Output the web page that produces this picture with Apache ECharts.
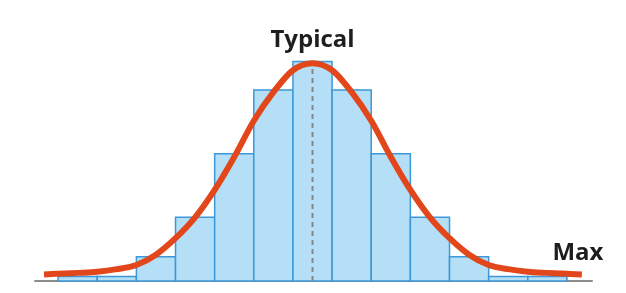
<!DOCTYPE html>
<html>
<head>
<meta charset="utf-8">
<script src="https://cdn.jsdelivr.net/npm/echarts@6/dist/echarts.min.js"></script>
<style>
html,body{margin:0;padding:0;background:#fff;}
#chart{width:626px;height:293px;}
</style>
</head>
<body>
<div id="chart"></div>
<script>
// Histogram bins (bin index = left edge, width 1)
var binStarts = [0,1,2,3,4,5,6,7,8,9,10,11,12];
var binCounts = [2,2,11,29,58,87,100,87,58,29,11,2,2];
// Fitted distribution curve: [x, y]
var curveX = [-0.36, 0, 0.5, 1.0, 1.5, 2.0, 2.5, 3.0, 3.5, 4.0, 4.5, 5.0, 5.5, 6.0, 6.5, 7.0, 7.5, 8.0, 8.5, 9.0, 9.5, 10.0, 10.5, 11.0, 11.5, 12.0, 12.5, 13.0, 13.38];
var curveY = [3.0, 3.3, 3.7, 4.2, 5.4, 7.3, 12.0, 19.5, 29.0, 41.5, 56.5, 73.0, 86.0, 96.0, 99.2, 96.0, 86.0, 73.0, 56.5, 41.5, 29.0, 19.5, 12.0, 7.3, 5.4, 4.2, 3.7, 3.3, 3.0];
// Annotations
var typicalX = 6.5, typicalLabel = 'Typical', typicalLabelY = 109.8;
var maxLabel = 'Max', maxLabelX = 13.28, maxLabelY = 12.8;
var meanLineTop = 98;

var barData = binStarts.map(function(s, i){ return [s, s + 1, binCounts[i]]; });
var curveData = curveX.map(function(x, i){ return [x, curveY[i]]; });

var chart = echarts.init(document.getElementById('chart'), null, {renderer:'canvas'});
chart.setOption({
  animation: false,
  grid: {left: 35, right: 34, top: 0, bottom: 12},
  xAxis: {
    type: 'value', min: -0.59, max: 13.64,
    axisLine: {show: true, onZero: false, lineStyle: {color: '#8c8c8c', width: 2}},
    axisTick: {show: false}, axisLabel: {show: false}, splitLine: {show: false}
  },
  yAxis: {
    type: 'value', min: 0, max: 128, show: false, splitLine: {show: false}
  },
  series: [
    {
      type: 'custom',
      z: 1,
      data: barData,
      renderItem: function(params, api){
        var p0 = api.coord([api.value(0), api.value(2)]);
        var p1 = api.coord([api.value(1), 0]);
        return {
          type: 'rect',
          shape: {x: p0[0], y: p0[1], width: p1[0] - p0[0], height: p1[1] - p0[1]},
          style: {fill: '#b4dff6', stroke: '#3c98d8', lineWidth: 1.5}
        };
      }
    },
    {
      type: 'line',
      z: 2,
      data: [[typicalX, 0], [typicalX, meanLineTop]],
      symbol: 'none',
      lineStyle: {color: '#888888', width: 2, type: [5, 4]}
    },
    {
      // smooth curve through the read points (Catmull-Rom spline in pixel space)
      type: 'custom',
      z: 3,
      data: [0],
      renderItem: function(params, api){
        var pts = curveData.map(function(d){ return api.coord(d); });
        var n = pts.length;
        var path = 'M' + pts[0][0] + ' ' + pts[0][1];
        for (var i = 0; i < n - 1; i++) {
          var p0 = pts[Math.max(i - 1, 0)], p1 = pts[i], p2 = pts[i + 1], p3 = pts[Math.min(i + 2, n - 1)];
          var c1x = p1[0] + (p2[0] - p0[0]) / 6, c1y = p1[1] + (p2[1] - p0[1]) / 6;
          var c2x = p2[0] - (p3[0] - p1[0]) / 6, c2y = p2[1] - (p3[1] - p1[1]) / 6;
          path += ' C' + c1x + ' ' + c1y + ' ' + c2x + ' ' + c2y + ' ' + p2[0] + ' ' + p2[1];
        }
        return {
          type: 'path',
          shape: {pathData: path},
          style: {fill: null, stroke: '#e2471c', lineWidth: 6, lineJoin: 'round'}
        };
      }
    },
    {
      type: 'scatter',
      z: 4,
      symbolSize: 0,
      itemStyle: {opacity: 1},
      data: [[typicalX, typicalLabelY, typicalLabel], [maxLabelX, maxLabelY, maxLabel]],
      label: {
        show: true, position: 'inside', opacity: 1,
        formatter: function(p){ return p.data[2]; },
        fontFamily: 'Open Sans', fontWeight: 'bold', fontSize: 24, color: '#1e1e1e',
        textBorderWidth: 0, textBorderColor: 'transparent'
      }
    }
  ]
});
</script>
</body>
</html>
